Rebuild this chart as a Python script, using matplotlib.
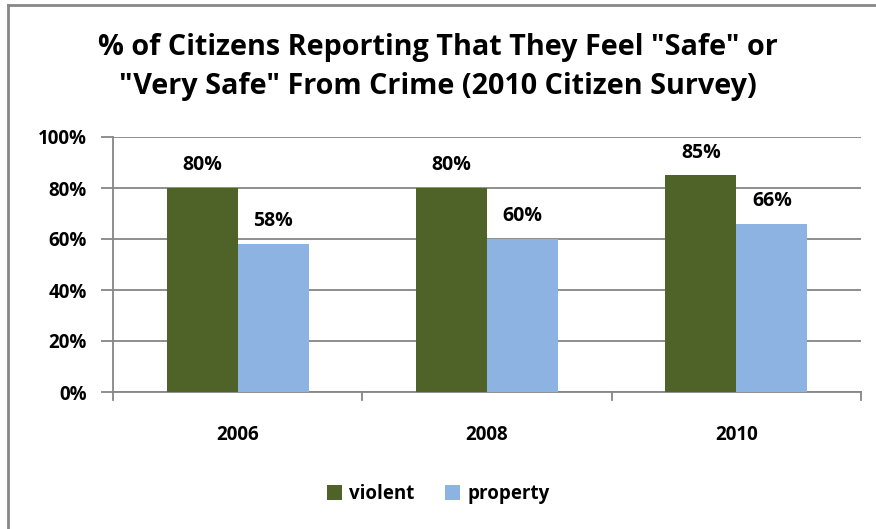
import matplotlib.pyplot as plt
from matplotlib.lines import Line2D
import numpy as np

years = ["2006", "2008", "2010"]
violent = [80, 80, 85]
property_ = [58, 60, 66]
yticks = [0, 20, 40, 60, 80, 100]

plt.rcParams['font.family'] = ['Open Sans', 'DejaVu Sans']
plt.rcParams['font.weight'] = 'bold'

fig = plt.figure(figsize=(8.76, 5.29), dpi=100)
ax = fig.add_axes([113/876, 137/529, 748/876, 255/529])

x = np.arange(len(years))
w = 0.285
green = '#4F6228'
blue = '#8DB3E2'
b1 = ax.bar(x - w/2, violent, w, color=green, label='violent', zorder=3)
b2 = ax.bar(x + w/2, property_, w, color=blue, label='property', zorder=3)

for bars, vals in ((b1, violent), (b2, property_)):
    for r, v in zip(bars, vals):
        ax.text(r.get_x() + r.get_width()/2, v + 5, f"{v}%", ha='center', va='bottom',
                fontsize=14, fontweight='bold')

ax.set_xlim(-0.5, 2.5)
ax.set_ylim(0, 100)
ax.set_yticks(yticks)
ax.set_yticklabels([f"{t}%" for t in yticks], fontsize=13.5, fontweight='bold')
ax.set_xticks(x)
ax.set_xticklabels(years, fontsize=13.5, fontweight='bold')
ax.tick_params(axis='x', length=0, pad=24)
ax.tick_params(axis='y', length=9, width=1.3, color='#868686', pad=10)
for xb in [-0.5, 0.5, 1.5, 2.5]:
    ax.plot([xb, xb], [0, -3], color='#868686', lw=1.3, clip_on=False, zorder=4)

ax.grid(axis='y', color='#868686', lw=1.3, zorder=0)
for s in ['top', 'right']:
    ax.spines[s].set_visible(False)
ax.spines['left'].set_color('#868686')
ax.spines['bottom'].set_color('#868686')
ax.spines['left'].set_linewidth(1.3)
ax.spines['bottom'].set_linewidth(1.3)

fig.text(0.5, 1 - 67/529, '% of Citizens Reporting That They Feel "Safe" or\n"Very Safe" From Crime (2010 Citizen Survey)',
         ha='center', va='center', fontsize=20.7, fontweight='bold', linespacing=1.45)

fig.legend(handles=[b1, b2], loc='center', bbox_to_anchor=(0.5, 1 - 494/529), ncol=2,
           frameon=False, prop={'size': 13.5, 'weight': 'bold'}, handlelength=0.8,
           handleheight=0.8, handletextpad=0.4, columnspacing=1.6)

fig.add_artist(Line2D([8/876, 8/876], [0, 1 - 5/529], color='#888888', lw=2))
fig.add_artist(Line2D([8/876, 1], [1 - 5/529, 1 - 5/529], color='#888888', lw=2))

fig.savefig('out.png', dpi=100)
